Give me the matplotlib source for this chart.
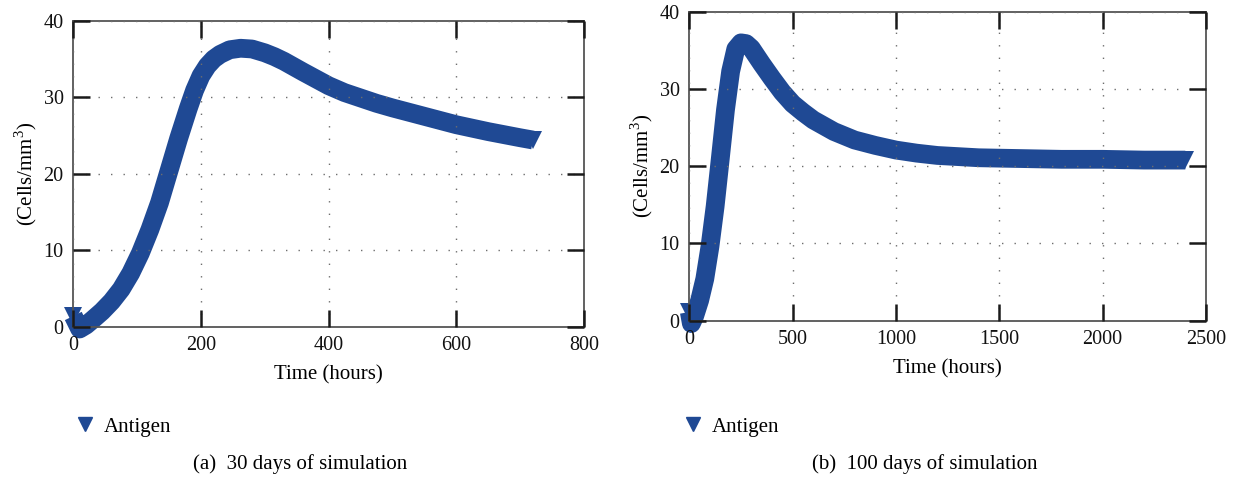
import matplotlib
matplotlib.use("Agg")
import matplotlib.pyplot as plt
from matplotlib.lines import Line2D

# Antigen concentration over 30 days (hours, cells/mm^3)
t_30 = [0, 10, 20, 30, 45, 60, 75, 90, 105, 120, 135, 150, 165, 180, 190,
        200, 210, 220, 230, 245, 262, 280, 300, 315, 330, 345, 360, 380,
        400, 425, 450, 475, 500, 550, 600, 650, 700, 720]
antigen_30 = [1.4, -0.3, 0.2, 0.9, 2.0, 3.3, 4.9, 7.0, 9.6, 12.7, 16.2,
              20.4, 24.6, 28.5, 30.9, 32.8, 34.1, 35.0, 35.6, 36.2, 36.4,
              36.3, 35.8, 35.3, 34.7, 34.0, 33.3, 32.4, 31.5, 30.6, 29.9,
              29.2, 28.6, 27.5, 26.4, 25.5, 24.7, 24.4]

# Antigen concentration over 100 days
t_100 = [0, 10, 25, 50, 75, 100, 125, 150, 175, 200, 225, 250, 275, 300,
         350, 400, 450, 500, 550, 600, 700, 800, 900, 1000, 1100, 1200,
         1400, 1600, 1800, 2000, 2200, 2400]
antigen_100 = [1.1, -0.4, 0.5, 2.6, 5.4, 9.6, 14.8, 21.0, 27.3, 32.3, 35.2,
               36.0, 35.9, 35.3, 33.3, 31.4, 29.6, 28.1, 27.0, 26.0, 24.5,
               23.4, 22.7, 22.1, 21.7, 21.4, 21.1, 21.0, 20.9, 20.9, 20.8,
               20.8]

xticks_30 = [0, 200, 400, 600, 800]
xticks_100 = [0, 500, 1000, 1500, 2000, 2500]
yticks = [0, 10, 20, 30, 40]
series_name = "Antigen"
captions = ["(a)  30 days of simulation", "(b)  100 days of simulation"]

BLUE = "#1f4994"
FONT = "Liberation Serif"
FS = 15
TICK_FS = 14.5

plt.rcParams["font.family"] = [FONT, "DejaVu Serif"]
plt.rcParams["mathtext.fontset"] = "custom"
plt.rcParams["mathtext.rm"] = FONT

W, H = 1237, 480
fig = plt.figure(figsize=(W / 100, H / 100), dpi=100)


def px_axes(x0, y0, x1, y1):
    return fig.add_axes([x0 / W, 1 - y1 / H, (x1 - x0) / W, (y1 - y0) / H])


def style(ax, xticks, xmax):
    ax.set_xlim(0, xmax)
    ax.set_ylim(0, 40)
    ax.set_xticks(xticks)
    ax.set_yticks(yticks)
    ax.set_axisbelow(False)
    ax.grid(True, linestyle=(0, (1, 8)), color="#6e6e6e", linewidth=1.0)
    ax.tick_params(direction="in", length=12, width=1.8, color="#1a1a1a",
                   top=True, right=True, labelsize=TICK_FS, pad=7,
                   labelcolor="#111111")
    for sp in ax.spines.values():
        sp.set_color("#555555")
        sp.set_linewidth(1.3)
    ax.set_xlabel("Time (hours)", fontsize=FS, labelpad=7)
    ax.set_ylabel(r"(Cells/mm$^3$)", fontsize=FS, labelpad=3)


panels = [
    (px_axes(73.3, 20.7, 584, 326.7), t_30, antigen_30, xticks_30, 800, 75),
    (px_axes(689.3, 12, 1206, 320.5), t_100, antigen_100, xticks_100, 2500, 683),
]

legend_marker = Line2D([], [], linestyle="none", marker="v", color=BLUE,
                       markersize=10.5)

for (ax, t, v, xt, xmax, lx), cap in zip(panels, captions):
    ax.plot(t, v, color=BLUE, linewidth=13.5, marker="v", markersize=13.5,
            markeredgewidth=0, markevery=[0, len(t) - 1],
            solid_joinstyle="round", solid_capstyle="butt",
            clip_on=False, zorder=2)
    style(ax, xt, xmax)
    ax.legend(handles=[legend_marker], labels=[series_name],
              loc="center left", bbox_to_anchor=(lx / W, 1 - 427 / H),
              bbox_transform=fig.transFigure, frameon=False, borderpad=0,
              borderaxespad=0, handlelength=1.0, handletextpad=0.4,
              fontsize=FS)

fig.text(300 / W, 1 - 464 / H, captions[0], ha="center", va="center",
         fontsize=FS)
fig.text(925 / W, 1 - 464 / H, captions[1], ha="center", va="center",
         fontsize=FS)

fig.savefig("out.png", dpi=100)
